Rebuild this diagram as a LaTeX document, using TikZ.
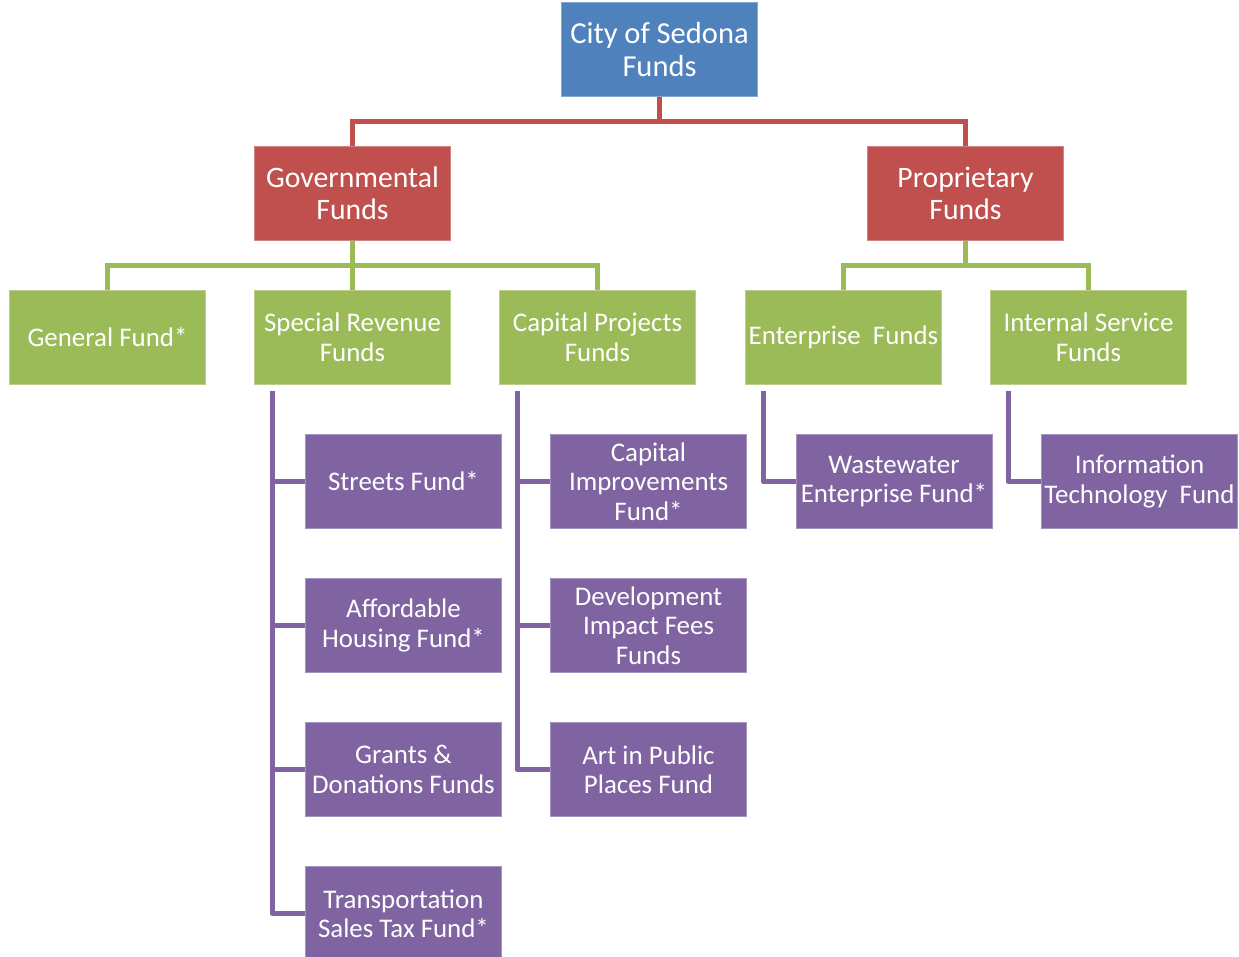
\documentclass[tikz,border=0pt]{standalone}
\usepackage{fontspec}
\setmainfont{Carlito}
\definecolor{sedblue}{HTML}{4F81BD}
\definecolor{sedred}{HTML}{C0504D}
\definecolor{sedgreen}{HTML}{9BBB59}
\definecolor{sedpurple}{HTML}{8064A2}
\tikzset{
  fundbox/.style={minimum width=196pt, minimum height=94pt, inner sep=0pt,
    align=center, text=white, line width=0.8pt},
  topbox/.style={fundbox, fill=sedblue, draw=sedblue!70!white,
    font=\fontsize{30.5}{33.5}\selectfont},
  typebox/.style={fundbox, fill=sedred, draw=sedred!70!white,
    font=\fontsize{29.7}{32}\selectfont},
  groupbox/.style={fundbox, fill=sedgreen, draw=sedgreen!70!white,
    font=\fontsize{26.9}{29.5}\selectfont},
  leafbox/.style={fundbox, fill=sedpurple, draw=sedpurple!70!white,
    font=\fontsize{26.9}{29.3}\selectfont},
  redline/.style={draw=sedred, line width=5pt},
  greenline/.style={draw=sedgreen, line width=5pt},
  purpline/.style={draw=sedpurple, line width=5pt, line join=round}
}
\begin{document}
\begin{tikzpicture}[x=1pt,y=-1pt]
	\useasboundingbox (0,0) rectangle (1239,957);
	% top
	\node[topbox] (city) at (659.5,49.5) {City of Sedona\\Funds};
	% fund types
	\node[typebox] (gov) at (352.5,193.5) {Governmental\\Funds};
	\node[typebox] (prop) at (965.5,193.5) {Proprietary\\Funds};
	% fund groups
	\node[groupbox] (general) at (107.5,337.5) {General Fund*};
	\node[groupbox] (special) at (352.5,337.5) {Special Revenue\\Funds};
	\node[groupbox] (capital) at (597.5,337.5) {Capital Projects\\Funds};
	\node[groupbox] (enterprise) at (843.5,337.5) {Enterprise\ \ Funds};
	\node[groupbox] (internal) at (1088.5,337.5) {Internal Service\\Funds};
	% funds
	\node[leafbox] (streets) at (403.5,481.5) {Streets Fund*};
	\node[leafbox] (housing) at (403.5,625.5) {Affordable\\Housing Fund*};
	\node[leafbox] (grants) at (403.5,769.5) {Grants \&\\Donations Funds};
	\node[leafbox] (transport) at (403.5,913.5) {Transportation\\Sales Tax Fund*};
	\node[leafbox] (cip) at (648.5,481.5) {Capital\\Improvements\\Fund*};
	\node[leafbox] (impact) at (648.5,625.5) {Development\\Impact Fees\\Funds};
	\node[leafbox] (art) at (648.5,769.5) {Art in Public\\Places Fund};
	\node[leafbox] (waste) at (894,481.5) {Wastewater\\Enterprise Fund*};
	\node[leafbox] (infotech) at (1139.5,481.5) {Information\\Technology\ \ Fund};
	% connectors
	\draw[redline] (city.south) -- ++(0,24.5) coordinate (cityjoin);
	\draw[redline] (gov.north) |- (cityjoin) -| (prop.north);
	\draw[greenline] (gov.south) -- ++(0,24.5) coordinate (govjoin);
	\draw[greenline] (general.north) |- (govjoin) -| (capital.north);
	\draw[greenline] (special.north) -- (govjoin);
	\draw[greenline] (prop.south) -- ++(0,24.5) coordinate (propjoin);
	\draw[greenline] (enterprise.north) |- (propjoin) -| (internal.north);
	\coordinate (specialtop) at ([xshift=18pt,yshift=-6pt]special.south west);
	\coordinate (capitaltop) at ([xshift=18pt,yshift=-6pt]capital.south west);
	\coordinate (enterprisetop) at ([xshift=18pt,yshift=-6pt]enterprise.south west);
	\coordinate (internaltop) at ([xshift=18pt,yshift=-6pt]internal.south west);
	\draw[purpline] (specialtop) |- (transport.west);
	\draw[purpline] (specialtop |- streets.west) -- (streets.west);
	\draw[purpline] (specialtop |- housing.west) -- (housing.west);
	\draw[purpline] (specialtop |- grants.west) -- (grants.west);
	\draw[purpline] (capitaltop) |- (art.west);
	\draw[purpline] (capitaltop |- cip.west) -- (cip.west);
	\draw[purpline] (capitaltop |- impact.west) -- (impact.west);
	\draw[purpline] (enterprisetop) |- (waste.west);
	\draw[purpline] (internaltop) |- (infotech.west);
\end{tikzpicture}
\end{document}
